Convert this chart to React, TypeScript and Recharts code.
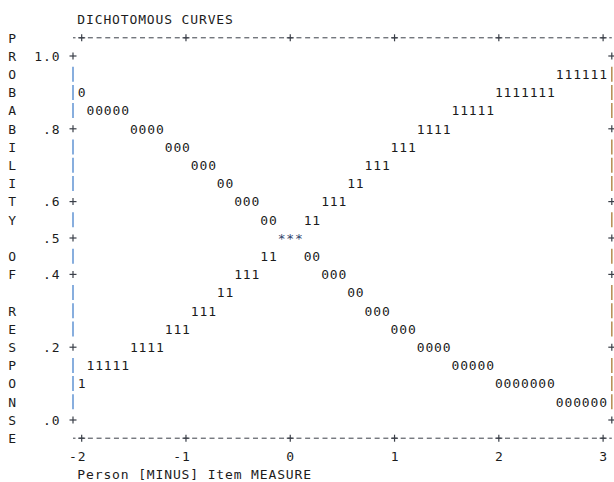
import React from "react";
import { ScatterChart, Scatter, XAxis, YAxis, Label } from "recharts";

// ---------- data ----------
const xTicks = [-2, -1, 0, 1, 2, 3];
const xTickLabels = ["-2", "-1", "0", "1", "2", "3"];

// one text row per 0.05 of probability, from the top frame row to the bottom frame row
const yRows = [1.05, 1, 0.95, 0.9, 0.85, 0.8, 0.75, 0.7, 0.65, 0.6, 0.55, 0.5, 0.45, 0.4, 0.35, 0.3, 0.25, 0.2, 0.15, 0.1, 0.05, 0, -0.05];
const sideLetters = ["P", "R", "O", "B", "A", "B", "I", "L", "I", "T", "Y", "", "O", "F", "", "R", "E", "S", "P", "O", "N", "S", "E"];
const yTickValues = [1, 0.8, 0.6, 0.5, 0.4, 0.2, 0];
const yTickLabels = ["1.0", ".8", ".6", ".5", ".4", ".2", ".0"];

// category "0" curve: measure at the centre of each plotted run, probability row, glyphs
const curve0 = [
  { x: -2, p: 0.9, s: "0" },
  { x: -1.75, p: 0.85, s: "00000" },
  { x: -1.375, p: 0.8, s: "0000" },
  { x: -1.083, p: 0.75, s: "000" },
  { x: -0.833, p: 0.7, s: "000" },
  { x: -0.625, p: 0.65, s: "00" },
  { x: -0.417, p: 0.6, s: "000" },
  { x: -0.208, p: 0.55, s: "00" },
  { x: 0.208, p: 0.45, s: "00" },
  { x: 0.417, p: 0.4, s: "000" },
  { x: 0.625, p: 0.35, s: "00" },
  { x: 0.833, p: 0.3, s: "000" },
  { x: 1.083, p: 0.25, s: "000" },
  { x: 1.375, p: 0.2, s: "0000" },
  { x: 1.75, p: 0.15, s: "00000" },
  { x: 2.25, p: 0.1, s: "0000000" },
  { x: 2.792, p: 0.05, s: "000000" },
];

// category "1" curve
const curve1 = [
  { x: 2.792, p: 0.95, s: "111111" },
  { x: 2.25, p: 0.9, s: "1111111" },
  { x: 1.75, p: 0.85, s: "11111" },
  { x: 1.375, p: 0.8, s: "1111" },
  { x: 1.083, p: 0.75, s: "111" },
  { x: 0.833, p: 0.7, s: "111" },
  { x: 0.625, p: 0.65, s: "11" },
  { x: 0.417, p: 0.6, s: "111" },
  { x: 0.208, p: 0.55, s: "11" },
  { x: -0.208, p: 0.45, s: "11" },
  { x: -0.417, p: 0.4, s: "111" },
  { x: -0.625, p: 0.35, s: "11" },
  { x: -0.833, p: 0.3, s: "111" },
  { x: -1.083, p: 0.25, s: "111" },
  { x: -1.375, p: 0.2, s: "1111" },
  { x: -1.75, p: 0.15, s: "11111" },
  { x: -2, p: 0.1, s: "1" },
];

// where both curves meet
const crossing = [{ x: 0, p: 0.5, s: "***" }];

// ---------- style ----------
const MONO = "'DejaVu Sans Mono', monospace";
const COL = 8.69; // one character column
const ROW = 18.2; // one text row
const FONT = 13;
const LS = 0.86;
const BASE = 4.7; // baseline below row centre
const INK = "#1c1c1c";
const FRAME = "#3a3f48";
const LEFT_BAR = "#6a9ad6";
const RIGHT_BAR = "#b8935a";

const near = (a: number, b: number) => Math.abs(a - b) < 1e-9;

const Plus = ({ x, y }: { x: number; y: number }) => (
  <g stroke={FRAME} strokeWidth={1.2}>
    <line x1={x - 3.5} x2={x + 3.5} y1={y} y2={y} />
    <line x1={x} x2={x} y1={y - 3.5} y2={y + 3.5} />
  </g>
);

const Glyphs = (props: any) => {
  const { cx, cy, payload, fill } = props;
  if (cx == null || cy == null) return null;
  return (
    <text
      x={cx + LS / 2}
      y={cy + BASE}
      textAnchor="middle"
      fontFamily={MONO}
      fontSize={FONT}
      letterSpacing={LS}
      fill={fill}
    >
      {payload.s}
    </text>
  );
};

const LeftTick = (props: any) => {
  const { x, y, payload } = props;
  const v = payload.value;
  const i = yRows.findIndex((r) => near(r, v));
  const t = yTickValues.findIndex((r) => near(r, v));
  const edge = i === 0 || i === yRows.length - 1;
  return (
    <g>
      <text x={x - 7 * COL + LS / 2} y={y + BASE} textAnchor="middle" fontFamily={MONO} fontSize={FONT} letterSpacing={LS} fill={INK}>
        {sideLetters[i]}
      </text>
      {t >= 0 && (
        <text x={x - 2 * COL + COL / 2 + LS / 2} y={y + BASE} textAnchor="end" fontFamily={MONO} fontSize={FONT} letterSpacing={LS} fill={INK}>
          {yTickLabels[t]}
        </text>
      )}
      {t >= 0 ? <Plus x={x} y={y} /> : !edge ? <line x1={x} x2={x} y1={y - 7.5} y2={y + 7.5} stroke={LEFT_BAR} strokeWidth={1.6} /> : null}
    </g>
  );
};

const RightTick = (props: any) => {
  const { x, y, payload } = props;
  const v = payload.value;
  const i = yRows.findIndex((r) => near(r, v));
  const t = yTickValues.findIndex((r) => near(r, v));
  const edge = i === 0 || i === yRows.length - 1;
  return (
    <g>
      {t >= 0 ? <Plus x={x} y={y} /> : !edge ? <line x1={x} x2={x} y1={y - 7.5} y2={y + 7.5} stroke={RIGHT_BAR} strokeWidth={1.6} /> : null}
    </g>
  );
};

const BottomTick = (props: any) => {
  const { x, y, payload } = props;
  const i = xTicks.findIndex((r) => near(r, payload.value));
  return (
    <g>
      <Plus x={x} y={y} />
      <text x={x + COL / 2 + LS / 2} y={y + ROW + BASE} textAnchor="end" fontFamily={MONO} fontSize={FONT} letterSpacing={LS} fill={INK}>
        {xTickLabels[i]}
      </text>
    </g>
  );
};

const TopTick = (props: any) => {
  const { x, y } = props;
  return <Plus x={x} y={y} />;
};

const TitleLabel = (props: any) => {
  const vb = props.viewBox || {};
  return (
    <text x={vb.x + COL / 2} y={vb.y + vb.height - ROW + BASE} textAnchor="start" fontFamily={MONO} fontSize={FONT} letterSpacing={LS} fill={INK}>
      DICHOTOMOUS CURVES
    </text>
  );
};

const AxisTitle = (props: any) => {
  const vb = props.viewBox || {};
  return (
    <text x={vb.x + COL / 2} y={vb.y + 2 * ROW + BASE} textAnchor="start" fontFamily={MONO} fontSize={FONT} letterSpacing={LS} fill={INK}>
      Person [MINUS] Item MEASURE
    </text>
  );
};

const xDomain = [-2 - 1 / 12, 3 + 1 / 12];
const yDomain = [-0.05, 1.05];
const dashed = { stroke: FRAME, strokeWidth: 1, strokeDasharray: "5 3.69", strokeDashoffset: 2.5 };

export default function App() {
  return (
    <div style={{ position: "fixed", left: 0, top: 0, width: 614, height: 482, background: "#fff" }}>
      <ScatterChart width={614} height={482} margin={{ top: 17.8, right: 0.2, bottom: 3.8, left: 13 }}>
        <XAxis
          xAxisId="b"
          type="number"
          dataKey="x"
          domain={xDomain}
          allowDataOverflow
          ticks={xTicks}
          interval={0}
          height={40}
          tickSize={0}
          tickMargin={0}
          tickLine={false}
          axisLine={dashed}
          tick={<BottomTick />}
        >
          <Label content={<AxisTitle />} />
        </XAxis>
        <XAxis
          xAxisId="t"
          orientation="top"
          type="number"
          dataKey="x"
          domain={xDomain}
          allowDataOverflow
          ticks={xTicks}
          interval={0}
          height={20}
          tickSize={0}
          tickMargin={0}
          tickLine={false}
          axisLine={dashed}
          tick={<TopTick />}
        >
          <Label content={<TitleLabel />} />
        </XAxis>
        <YAxis
          yAxisId="l"
          type="number"
          dataKey="p"
          domain={yDomain}
          allowDataOverflow
          ticks={yRows}
          interval={0}
          width={60}
          tickSize={0}
          tickMargin={0}
          tickLine={false}
          axisLine={false}
          tick={<LeftTick />}
        />
        <YAxis
          yAxisId="r"
          orientation="right"
          type="number"
          dataKey="p"
          domain={yDomain}
          allowDataOverflow
          ticks={yRows}
          interval={0}
          width={2}
          tickSize={0}
          tickMargin={0}
          tickLine={false}
          axisLine={false}
          tick={<RightTick />}
        />
        <Scatter xAxisId="b" yAxisId="l" data={curve0} fill={INK} shape={(p: any) => <Glyphs {...p} />} isAnimationActive={false} />
        <Scatter xAxisId="b" yAxisId="l" data={curve1} fill={INK} shape={(p: any) => <Glyphs {...p} />} isAnimationActive={false} />
        <Scatter xAxisId="b" yAxisId="l" data={crossing} fill="#33466e" shape={(p: any) => <Glyphs {...p} />} isAnimationActive={false} />
      </ScatterChart>
    </div>
  );
}
